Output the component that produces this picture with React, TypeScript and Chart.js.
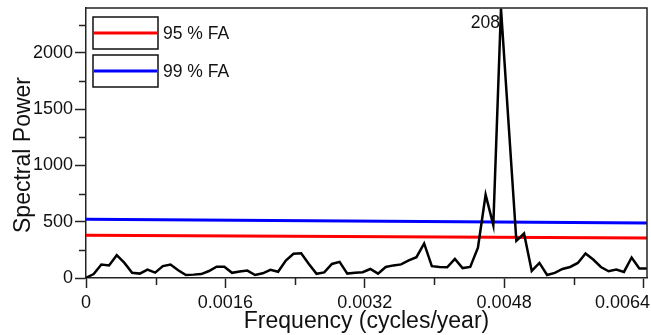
import React, { useEffect, useRef } from "react";
import { Chart, registerables } from "chart.js";

Chart.register(...registerables);

// ---- data ----
const FREQ_STEP = 0.00008822; // cycles/year between periodogram samples
const X_MAX = 0.00644;
const POWER = [
  2, 35, 120, 112, 203, 134, 46, 39, 75, 48,
  106, 120, 69, 27, 30, 35, 62, 100, 99, 46,
  58, 66, 27, 42, 72, 55, 155, 215, 220, 125,
  37, 50, 125, 143, 39, 47, 52, 80, 39, 98,
  112, 121, 156, 185, 307, 105, 98, 95, 170, 88,
  98, 270, 740, 470, 2395, 1360, 330, 395, 63, 134,
  27, 45, 80, 98, 134, 218, 164, 98, 60, 75,
  54, 182, 84, 84,
];
const FREQ = POWER.map((_, i) => i * FREQ_STEP);
const FA95 = [380, 356]; // at x = 0 and x = X_MAX
const FA99 = [522, 489];
const LEGEND_LABELS = ["95 % FA", "99 % FA"];
const PEAK_LABEL = "208";
const X_TICKS = [0, 0.0016, 0.0032, 0.0048, 0.0064];
const X_TICK_LABELS = ["0", "0.0016", "0.0032", "0.0048", "0.0064"];
const X_MINOR = [0.0008, 0.0024, 0.004, 0.0056];
const Y_TICKS = [0, 500, 1000, 1500, 2000];
const Y_TICK_LABELS = ["0", "500", "1000", "1500", "2000"];
const Y_MINOR = [250, 750, 1250, 1750, 2250];
const X_TITLE = "Frequency (cycles/year)";
const Y_TITLE = "Spectral Power";

const FONT = "'Liberation Sans', Arial, sans-serif";
const AXIS = "#222";

const decor = {
  id: "decor",
  afterDraw(chart: any) {
    const { ctx, chartArea: ca, scales, width } = chart;
    const xs = scales.x;
    const ys = scales.y;
    ctx.save();
    ctx.strokeStyle = AXIS;
    ctx.lineWidth = 1.5;
    // top & right frame
    ctx.beginPath();
    ctx.moveTo(ca.left, ca.top);
    ctx.lineTo(ca.right, ca.top);
    ctx.lineTo(ca.right, ca.bottom);
    ctx.stroke();
    // minor ticks
    ctx.beginPath();
    X_MINOR.forEach((v) => {
      const px = Math.round(xs.getPixelForValue(v)) + 0.5;
      ctx.moveTo(px, ca.bottom);
      ctx.lineTo(px, ca.bottom + 7);
    });
    Y_MINOR.forEach((v) => {
      const py = Math.round(ys.getPixelForValue(v)) + 0.5;
      ctx.moveTo(ca.left - 7, py);
      ctx.lineTo(ca.left, py);
    });
    ctx.stroke();

    // x tick labels (kept inside the canvas)
    ctx.fillStyle = "#111";
    ctx.font = `18px ${FONT}`;
    ctx.textBaseline = "alphabetic";
    ctx.textAlign = "left";
    X_TICKS.forEach((v, i) => {
      const t = X_TICK_LABELS[i];
      const w = ctx.measureText(t).width;
      let left = xs.getPixelForValue(v) - w / 2;
      if (left + w > width - 1) left = width - 1 - w;
      ctx.fillText(t, left, 308);
    });

    // legend
    const colors = ["#ff0000", "#0000ff"];
    const boxTops = [17, 55];
    LEGEND_LABELS.forEach((label, i) => {
      const x0 = 93, w = 65, h = 32, y0 = boxTops[i];
      ctx.fillStyle = "#fff";
      ctx.fillRect(x0, y0, w, h);
      ctx.strokeStyle = "#111";
      ctx.lineWidth = 1.5;
      ctx.strokeRect(x0, y0, w, h);
      ctx.strokeStyle = colors[i];
      ctx.lineWidth = 3;
      ctx.beginPath();
      ctx.moveTo(x0 + 1, y0 + h / 2);
      ctx.lineTo(x0 + w - 1, y0 + h / 2);
      ctx.stroke();
      ctx.fillStyle = "#111";
      ctx.font = `17.5px ${FONT}`;
      ctx.textAlign = "left";
      ctx.textBaseline = "alphabetic";
      ctx.fillText(label, x0 + w + 5, y0 + h / 2 + 6.3);
    });

    // peak label
    let pi = 0;
    POWER.forEach((v, i) => { if (v > POWER[pi]) pi = i; });
    const ppx = xs.getPixelForValue(FREQ[pi]);
    ctx.fillStyle = "#111";
    ctx.font = `17.5px ${FONT}`;
    ctx.textAlign = "right";
    ctx.textBaseline = "alphabetic";
    ctx.fillText(PEAK_LABEL, ppx - 1, 27.5);

    // axis titles
    ctx.font = `23px ${FONT}`;
    ctx.textAlign = "center";
    ctx.fillText(X_TITLE, (ca.left + ca.right) / 2, 328);
    ctx.save();
    ctx.translate(30, 155);
    ctx.rotate(-Math.PI / 2);
    ctx.fillText(Y_TITLE, 0, 0);
    ctx.restore();
    ctx.restore();
  },
};

export default function App() {
  const ref = useRef<HTMLCanvasElement>(null);
  useEffect(() => {
    document.body.style.margin = "0";
    const chart = new Chart(ref.current as HTMLCanvasElement, {
      type: "line",
      data: {
        datasets: [
          {
            label: "power",
            data: FREQ.map((f, i) => ({ x: f, y: POWER[i] })),
            borderColor: "#000",
            borderWidth: 2.5,
            pointRadius: 0,
            tension: 0,
          },
          {
            label: LEGEND_LABELS[0],
            data: [{ x: 0, y: FA95[0] }, { x: X_MAX, y: FA95[1] }],
            borderColor: "#ff0000",
            borderWidth: 3,
            pointRadius: 0,
          },
          {
            label: LEGEND_LABELS[1],
            data: [{ x: 0, y: FA99[0] }, { x: X_MAX, y: FA99[1] }],
            borderColor: "#0000ff",
            borderWidth: 3,
            pointRadius: 0,
          },
        ],
      },
      options: {
        responsive: false,
        animation: false,
        layout: { padding: { top: 8, right: 4, left: 0, bottom: 0 } },
        plugins: { legend: { display: false }, tooltip: { enabled: false } },
        scales: {
          x: {
            type: "linear",
            min: 0,
            max: X_MAX,
            afterBuildTicks: (s: any) => { s.ticks = X_TICKS.map((v) => ({ value: v })); },
            afterFit: (s: any) => { s.height = 57; s.paddingLeft = 0; s.paddingRight = 0; },
            ticks: { display: false },
            grid: { drawOnChartArea: false, drawTicks: true, tickLength: 10, tickColor: AXIS, tickWidth: 1.5 },
            border: { display: true, color: AXIS, width: 1.5 },
          },
          y: {
            type: "linear",
            min: 0,
            max: 2400,
            afterBuildTicks: (s: any) => { s.ticks = Y_TICKS.map((v) => ({ value: v })); },
            afterFit: (s: any) => { s.width = 86; s.paddingTop = 0; s.paddingBottom = 0; },
            ticks: {
              autoSkip: false,
              padding: 2,
              color: "#111",
              font: { family: FONT, size: 18 },
              callback: (_v: any, i: number) => Y_TICK_LABELS[i],
            },
            grid: { drawOnChartArea: false, drawTicks: true, tickLength: 11, tickColor: AXIS, tickWidth: 1.5 },
            border: { display: true, color: AXIS, width: 1.5 },
          },
        },
      },
      plugins: [decor],
    });
    return () => chart.destroy();
  }, []);
  return (
    <div style={{ width: 651, height: 335, background: "#fff" }}>
      <canvas ref={ref} width={651} height={335} />
    </div>
  );
}
